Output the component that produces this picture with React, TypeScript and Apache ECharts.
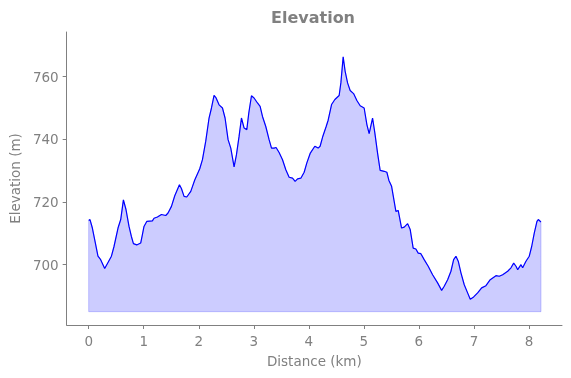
import React, { useEffect, useRef } from "react";
import * as echarts from "echarts";

const distanceKm: number[] = [
  0.0, 0.024, 0.067, 0.109, 0.169, 0.218, 0.291, 0.351, 0.413, 0.46, 0.533, 0.582, 0.631, 0.678,
  0.733, 0.776, 0.813, 0.873, 0.945, 0.976, 1.005, 1.055, 1.158, 1.187, 1.249, 1.322, 1.4, 1.442,
  1.504, 1.564, 1.649, 1.685, 1.733, 1.782, 1.855, 1.927, 2.018, 2.067, 2.127, 2.187, 2.231, 2.278,
  2.315, 2.369, 2.431, 2.478, 2.533, 2.582, 2.642, 2.685, 2.733, 2.776, 2.824, 2.873, 2.909, 2.958,
  3.005, 3.067, 3.115, 3.158, 3.218, 3.278, 3.322, 3.369, 3.405, 3.46, 3.522, 3.582, 3.642, 3.704,
  3.751, 3.795, 3.855, 3.915, 3.964, 4.024, 4.109, 4.169, 4.205, 4.255, 4.315, 4.351, 4.413, 4.473,
  4.551, 4.582, 4.624, 4.66, 4.704, 4.751, 4.813, 4.873, 4.933, 5.005, 5.055, 5.096, 5.158, 5.2,
  5.249, 5.296, 5.369, 5.418, 5.455, 5.504, 5.582, 5.624, 5.685, 5.733, 5.795, 5.842, 5.896, 5.945,
  5.987, 6.036, 6.096, 6.169, 6.249, 6.34, 6.413, 6.46, 6.522, 6.582, 6.631, 6.673, 6.715, 6.764,
  6.824, 6.885, 6.933, 6.995, 7.067, 7.14, 7.218, 7.296, 7.4, 7.46, 7.522, 7.613, 7.673, 7.722,
  7.764, 7.795, 7.855, 7.885, 7.945, 8.005, 8.049, 8.096, 8.145, 8.169, 8.218,
];

const elevationM: number[] = [
  714.1, 714.4, 711.7, 708.0, 702.7, 701.6, 698.8, 700.7, 702.7, 705.8, 711.7, 714.4, 720.7, 717.6,
  712.2, 709.0, 706.7, 706.3, 706.9, 709.6, 712.2, 713.8, 714.0, 714.8, 715.2, 716.0, 715.7, 716.5,
  718.6, 722.0, 725.5, 724.3, 721.8, 721.6, 723.4, 727.0, 730.6, 733.5, 739.4, 746.8, 750.0, 754.0,
  753.2, 751.0, 750.0, 746.8, 739.9, 737.2, 731.2, 735.1, 741.0, 746.8, 743.6, 743.1, 748.4, 753.9,
  753.2, 751.6, 750.5, 747.3, 744.1, 739.9, 737.2, 737.2, 737.4, 735.8, 733.5, 730.3, 727.9, 727.6,
  726.6, 727.4, 727.6, 729.5, 732.5, 735.5, 737.8, 737.2, 737.8, 741.0, 744.1, 746.1, 751.1, 752.7,
  754.0, 758.0, 766.3, 761.7, 758.0, 755.6, 754.6, 752.4, 750.7, 750.0, 744.7, 741.8, 746.8, 742.0,
  735.6, 730.1, 729.8, 729.5, 726.9, 725.0, 717.0, 717.3, 711.7, 712.0, 713.1, 711.2, 705.3, 705.0,
  703.7, 703.5, 701.6, 699.5, 696.8, 694.2, 691.8, 693.1, 695.2, 697.9, 701.6, 702.7, 701.1, 697.4,
  693.6, 691.0, 689.0, 689.7, 691.0, 692.6, 693.3, 695.2, 696.5, 696.3, 696.8, 697.9, 699.0, 700.5,
  699.5, 698.4, 700.0, 699.0, 701.1, 702.7, 705.8, 710.1, 713.8, 714.4, 713.6,
];

const fillBaseline = 685;
const xTicks: number[] = [0, 1, 2, 3, 4, 5, 6, 7, 8];
const yTicks: number[] = [700, 720, 740, 760];

const GRAY = "#808080";
const FONT = "DejaVu Sans";

export default function App() {
  const ref = useRef<HTMLDivElement>(null);

  useEffect(() => {
    if (!ref.current) return;
    const chart = echarts.init(ref.current, undefined, { renderer: "svg" });
    const lineData = distanceKm.map((d, i) => [d, elevationM[i]]);

    chart.setOption({
      animation: false,
      title: {
        text: "Elevation",
        left: 271,
        top: 9,
        padding: 0,
        textStyle: { fontFamily: FONT, fontSize: 16, fontWeight: "bold", color: GRAY },
      },
      grid: { left: 66, right: 9, top: 32, bottom: 53, containLabel: false },
      xAxis: {
        type: "value",
        min: -0.4,
        max: 8.6,
        name: "Distance (km)",
        nameLocation: "middle",
        nameGap: 29,
        nameTextStyle: { fontFamily: FONT, fontSize: 13.5, color: GRAY },
        axisLine: { show: true, onZero: false, lineStyle: { color: GRAY, width: 1 } },
        axisTick: { show: true, length: 4, lineStyle: { color: GRAY }, customValues: xTicks },
        axisLabel: {
          fontFamily: FONT,
          fontSize: 13.5,
          color: GRAY,
          margin: 9,
          customValues: xTicks,
        },
        splitLine: { show: false },
      },
      yAxis: {
        type: "value",
        min: 680.75,
        max: 774.25,
        name: "Elevation (m)",
        nameLocation: "middle",
        nameGap: 41,
        nameTextStyle: { fontFamily: FONT, fontSize: 13.5, color: GRAY },
        axisLine: { show: true, onZero: false, lineStyle: { color: GRAY, width: 1 } },
        axisTick: { show: true, length: 4, lineStyle: { color: GRAY }, customValues: yTicks },
        axisLabel: {
          fontFamily: FONT,
          fontSize: 13.5,
          color: GRAY,
          margin: 8,
          customValues: yTicks,
        },
        splitLine: { show: false },
      },
      series: [
        {
          type: "custom",
          silent: true,
          data: [[0, fillBaseline]],
          renderItem: (_params: any, api: any) => {
            const pts: number[][] = [];
            pts.push(api.coord([distanceKm[0], fillBaseline]));
            for (let i = 0; i < distanceKm.length; i++) {
              pts.push(api.coord([distanceKm[i], elevationM[i]]));
            }
            pts.push(api.coord([distanceKm[distanceKm.length - 1], fillBaseline]));
            return {
              type: "polygon",
              shape: { points: pts },
              style: {
                fill: "rgba(0,0,255,0.2)",
                stroke: "rgba(0,0,255,0.2)",
                lineWidth: 1,
              },
            };
          },
          z: 1,
        },
        {
          type: "line",
          data: lineData,
          showSymbol: false,
          symbol: "none",
          lineStyle: { color: "#0000ff", width: 1.2 },
          z: 2,
        },
      ],
    });

    return () => chart.dispose();
  }, []);

  return (
    <div
      ref={ref}
      style={{ position: "fixed", left: 0, top: 0, width: 571, height: 378 }}
    />
  );
}
